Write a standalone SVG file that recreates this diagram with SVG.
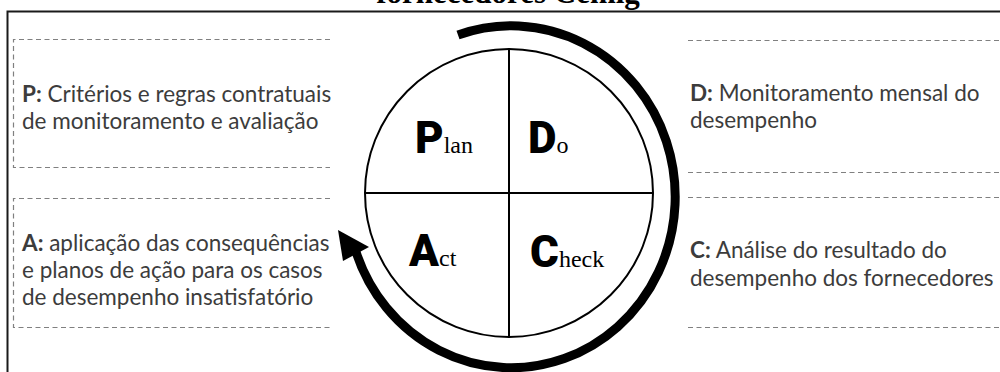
<svg xmlns="http://www.w3.org/2000/svg" width="1000" height="372" viewBox="0 0 1000 372">
  <style>
    .frame { stroke: #1a1a1a; stroke-width: 2; fill: none; }
    .dash { stroke: #808080; stroke-width: 1.2; stroke-dasharray: 5 3.5; fill: none; }
    .desc { font-family: Lato, "Liberation Sans", sans-serif; font-size: 22.5px; fill: #3c3c3c; }
    .desc tspan.k { font-weight: bold; }
    .big { font-family: Roboto, Lato, "Liberation Sans", sans-serif; font-weight: 900; font-size: 44px; fill: #000; }
    .small { font-family: "Liberation Serif", serif; font-size: 24px; fill: #000; }
    .title { font-family: "Liberation Serif", serif; font-weight: bold; font-size: 31px; fill: #000; }
    .quad { stroke: #000; stroke-width: 2; fill: none; }
  </style>
  <rect width="1000" height="372" fill="#fff"/>
  <text class="title" x="508" y="3" text-anchor="middle">fornecedores Cemig</text>
  <path class="frame" d="M7.5 372 V11.5 H1000"/>

  <g id="box-p">
    <path class="dash" d="M330 39.5 H13.5 V167.5 H330"/>
    <text class="desc" x="22" y="102"><tspan class="k">P:</tspan> Critérios e regras contratuais</text>
    <text class="desc" x="22" y="129">de monitoramento e avaliação</text>
  </g>
  <g id="box-a">
    <path class="dash" d="M330 198.5 H13.5 V327.5 H330"/>
    <text class="desc" x="22" y="251"><tspan class="k">A:</tspan> aplicação das consequências</text>
    <text class="desc" x="22" y="278">e planos de ação para os casos</text>
    <text class="desc" x="22" y="305">de desempenho insatisfatório</text>
  </g>
  <g id="box-d">
    <path class="dash" d="M688 40.5 H1000 M688 172.5 H1000"/>
    <text class="desc" x="690" y="101"><tspan class="k">D:</tspan> Monitoramento mensal do</text>
    <text class="desc" x="690" y="128">desempenho</text>
  </g>
  <g id="box-c">
    <path class="dash" d="M688 197.5 H1000 M688 327.5 H1000"/>
    <text class="desc" x="690" y="258"><tspan class="k">C:</tspan> Análise do resultado do</text>
    <text class="desc" x="690" y="286">desempenho dos fornecedores</text>
  </g>

  <g id="pdca-circle">
    <circle class="quad" cx="509" cy="193" r="144"/>
    <line class="quad" x1="509" y1="49" x2="509" y2="337"/>
    <line class="quad" x1="365" y1="193" x2="653" y2="193"/>
  </g>
  <g id="plan">
    <text x="415" y="153"><tspan class="big">P</tspan><tspan class="small">lan</tspan></text>
  </g>
  <g id="do">
    <text x="528" y="153"><tspan class="big">D</tspan><tspan class="small" font-size="18">o</tspan></text>
  </g>
  <g id="act">
    <text x="409" y="266"><tspan class="big">A</tspan><tspan class="small">ct</tspan></text>
  </g>
  <g id="check">
    <text x="530" y="267"><tspan class="big">C</tspan><tspan class="small">heck</tspan></text>
  </g>

  <g id="connectors">
    <path d="M458 35 A164 171 0 1 1 356 252" fill="none" stroke="#000" stroke-width="9"/>
    <polygon points="338,230 343,261 369,247" fill="#000"/>
  </g>
</svg>
